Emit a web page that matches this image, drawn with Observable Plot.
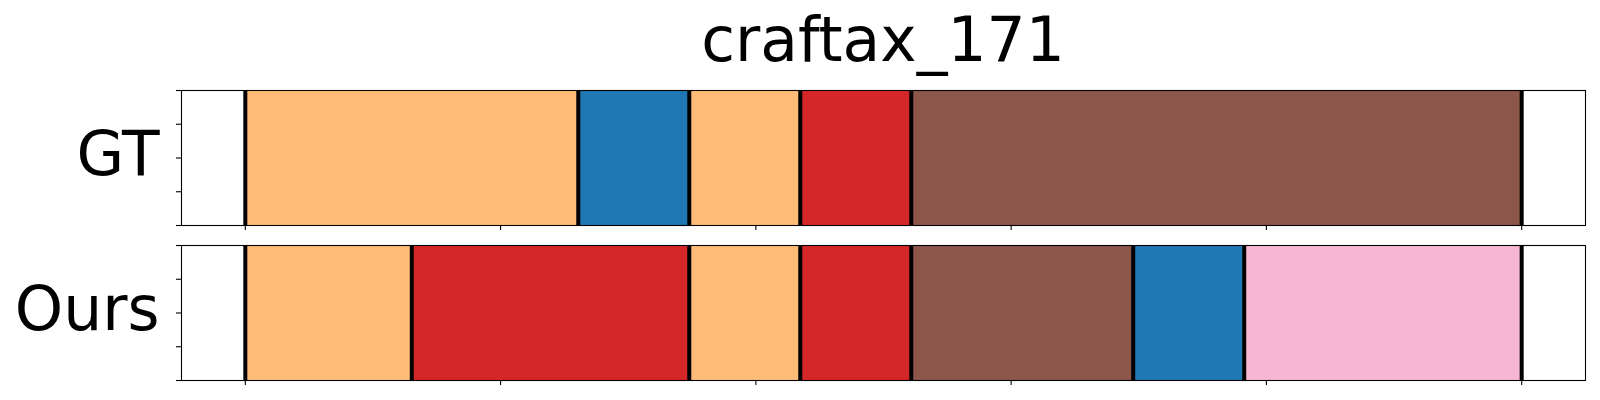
<!DOCTYPE html>
<html>
<head>
<meta charset="utf-8">
<script src="https://cdn.jsdelivr.net/npm/d3@7"></script>
<script src="https://cdn.jsdelivr.net/npm/@observablehq/plot@0.6"></script>
<style>
  html, body { margin: 0; padding: 0; background: #fff; }
  #wrap { width: 1600px; height: 400px; font-family: "DejaVu Sans", sans-serif; }
  #title { height: 80px; line-height: 81px; font-size: 61.5px; margin-left: 166px; width: 1434px; text-align: center; color: #000; }
  svg { display: block; }
</style>
</head>
<body>
<div id="wrap">
  <div id="title">craftax_171</div>
  <div id="p1"></div>
  <div id="p2"></div>
</div>
<script>
// ---- data ----
const title = "craftax_171";
const rowLabels = ["GT", "Ours"];

const gtStart = [0, 6, 8, 10, 12];
const gtEnd   = [6, 8, 10, 12, 23];
const gtClass = [3, 0, 3, 6, 10];

const oursStart = [0, 3, 8, 10, 12, 16, 18];
const oursEnd   = [3, 8, 10, 12, 16, 18, 23];
const oursClass = [3, 6, 3, 6, 10, 0, 13];

const classIds = [0, 3, 6, 10, 13];
const classColors = ["#1f77b4", "#ffbb78", "#d62728", "#8c564b", "#f7b6d2"];

const xTicks = [0, 4.6, 9.2, 13.8, 18.4, 23];
const yTicks = [0, 0.25, 0.5, 0.75, 1];
const xDomain = [-1.15, 24.15];

function makePanel(label, starts, ends, classes, marginTop, marginBottom) {
  const segs = starts.map((s, i) => ({start: s, end: ends[i], cls: classes[i]}));
  const bounds = Array.from(new Set([...starts, ...ends])).sort((a, b) => a - b);
  return Plot.plot({
    width: 1600,
    height: 160,
    marginLeft: 181,
    marginRight: 15,
    marginTop,
    marginBottom,
    style: {fontFamily: "DejaVu Sans, sans-serif", background: "white", color: "black", overflow: "visible"},
    x: {domain: xDomain},
    y: {domain: [0, 1]},
    color: {type: "ordinal", domain: classIds, range: classColors},
    marks: [
      Plot.rect(segs, {x1: "start", x2: "end", y1: 0, y2: 1, fill: "cls"}),
      Plot.ruleX(bounds, {stroke: "black", strokeWidth: 4}),
      Plot.frame({stroke: "black", strokeWidth: 1.1}),
      Plot.axisX({ticks: xTicks, tickFormat: () => "", tickSize: 5, strokeWidth: 1.1, label: null}),
      Plot.axisY({ticks: yTicks, tickFormat: () => "", tickSize: 5, strokeWidth: 1.1, label: null}),
      Plot.text([label], {frameAnchor: "left", textAnchor: "end", lineAnchor: "bottom", dx: -22, dy: 17, fontSize: 61.5, fill: "black"})
    ]
  });
}

document.getElementById("p1").append(makePanel(rowLabels[0], gtStart, gtEnd, gtClass, 10, 15));
document.getElementById("p2").append(makePanel(rowLabels[1], oursStart, oursEnd, oursClass, 5, 20));
</script>
</body>
</html>
